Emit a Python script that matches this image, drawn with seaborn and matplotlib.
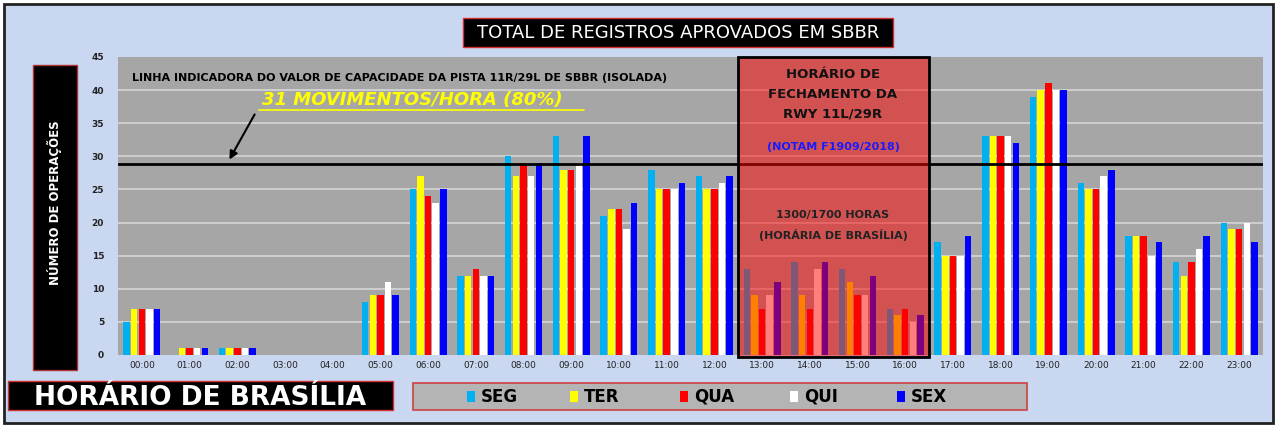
import matplotlib
matplotlib.use("Agg")
import matplotlib.pyplot as plt
import matplotlib.patches as mpatches
from matplotlib.lines import Line2D
import seaborn as sns
import pandas as pd

# ---------------- data ----------------
horas = ["00:00", "01:00", "02:00", "03:00", "04:00", "05:00", "06:00", "07:00",
         "08:00", "09:00", "10:00", "11:00", "12:00", "13:00", "14:00", "15:00",
         "16:00", "17:00", "18:00", "19:00", "20:00", "21:00", "22:00", "23:00"]
dias = ["SEG", "TER", "QUA", "QUI", "SEX"]
seg = [5, 0, 1, 0, 0, 8, 25, 12, 30, 33, 21, 28, 27, 13, 14, 13, 7, 17, 33, 39, 26, 18, 14, 20]
ter = [7, 1, 1, 0, 0, 9, 27, 12, 27, 28, 22, 25, 25, 9, 9, 11, 6, 15, 33, 40, 25, 18, 12, 19]
qua = [7, 1, 1, 0, 0, 9, 24, 13, 29, 28, 22, 25, 25, 7, 7, 9, 7, 15, 33, 41, 25, 18, 14, 19]
qui = [7, 1, 1, 0, 0, 11, 23, 12, 27, 29, 19, 25, 26, 9, 13, 9, 5, 15, 33, 40, 27, 15, 16, 20]
sex = [7, 1, 1, 0, 0, 9, 25, 12, 29, 33, 23, 26, 27, 11, 14, 12, 6, 18, 32, 40, 28, 17, 18, 17]
capacidade = 28.8
cores = ["#00b0f0", "#ffff00", "#ff0000", "#ffffff", "#0000ff"]

rows = []
for d, vals in zip(dias, [seg, ter, qua, qui, sex]):
    for h, v in zip(horas, vals):
        rows.append({"hora": h, "dia": d, "valor": v})
df = pd.DataFrame(rows)

W, H = 1277, 428
def fx(p):
    return p / W
def fy(p):
    return 1 - p / H

sns.set_style("white")
fig = plt.figure(figsize=(W / 100, H / 100), dpi=100, facecolor="white")

# framed background
fig.patches.append(mpatches.Rectangle((fx(4), fy(423)), fx(1269), 419 / H,
                                      transform=fig.transFigure, facecolor="#cad7f0",
                                      edgecolor="#222222", linewidth=2, zorder=-5))

ax = fig.add_axes([fx(118), fy(355), fx(1263 - 118), (355 - 57) / H])
ax.set_zorder(1)
ax.set_facecolor("#a6a6a6")

sns.barplot(data=df, x="hora", y="valor", hue="dia", hue_order=dias,
            palette=cores, width=0.8, gap=0.15, saturation=1, linewidth=0,
            legend=False, ax=ax, zorder=3)

ax.set_ylim(0, 45)
ax.set_xlim(-0.5, 23.5)
ax.set_yticks(range(0, 46, 5))
for yv in range(5, 45, 5):
    ax.axhline(yv, color="#d9d9d9", lw=1.1, zorder=1)
for s in ax.spines.values():
    s.set_visible(False)
ax.set_xlabel("")
ax.set_ylabel("")
ax.tick_params(axis="both", length=0, labelsize=6.5, colors="#222222")
for t in ax.get_yticklabels():
    t.set_fontweight("bold")
ax.tick_params(axis="y", pad=10)
ax.tick_params(axis="x", pad=4)

# capacity line
ax.axhline(capacidade, color="black", lw=2, zorder=4)

# closure overlay (13:00-16:00)
ax.add_patch(mpatches.Rectangle((12.5, -0.3), 4, 45.3, facecolor="#ff0000", alpha=0.5,
                                edgecolor="none", zorder=5, clip_on=False))
ax.add_patch(mpatches.Rectangle((12.5, -0.3), 4, 45.3, facecolor="none",
                                edgecolor="black", lw=2, zorder=6, clip_on=False))

# texts inside the overlay
for txt, yy in [("HORÁRIO DE", 75), ("FECHAMENTO DA", 95), ("RWY 11L/29R", 114)]:
    fig.text(fx(833), fy(yy), txt, ha="center", va="center", fontsize=9.5,
             fontweight="bold", color="#111111", zorder=10)
fig.text(fx(833), fy(147), "(NOTAM F1909/2018)", ha="center", va="center",
         fontsize=8, fontweight="bold", color="#1a1aff", zorder=10)
fig.text(fx(833), fy(215), "1300/1700 HORAS", ha="center", va="center",
         fontsize=8, fontweight="bold", color="#222222", zorder=10)
fig.text(fx(833), fy(235), "(HORÁRIA DE BRASÍLIA)", ha="center", va="center",
         fontsize=8, fontweight="bold", color="#222222", zorder=10)

# capacity annotation
fig.text(fx(132), fy(78), "LINHA INDICADORA DO VALOR DE CAPACIDADE DA PISTA 11R/29L DE SBBR (ISOLADA)",
         ha="left", va="center", fontsize=8, fontweight="bold", color="black", zorder=10)
fig.text(fx(262), fy(100), "31 MOVIMENTOS/HORA (80%)", ha="left", va="center",
         fontsize=13, fontweight="bold", fontstyle="italic", color="#ffff00", zorder=10)
fig.add_artist(Line2D([fx(259), fx(584)], [fy(110), fy(110)], color="#ffff00", lw=1.2,
                      transform=fig.transFigure, zorder=10))
fig.add_artist(mpatches.FancyArrowPatch((fx(256), fy(112)), (fx(228), fy(162)),
                                        transform=fig.transFigure, arrowstyle="-|>",
                                        mutation_scale=12, color="black", lw=1.5, zorder=10))

# title box
fig.patches.append(mpatches.Rectangle((fx(463), fy(47)), fx(430), 29 / H,
                                      transform=fig.transFigure, facecolor="black",
                                      edgecolor="#d03030", lw=1, zorder=2))
fig.text(fx(678), fy(33), "TOTAL DE REGISTROS APROVADOS EM SBBR", ha="center", va="center",
         fontsize=13, color="white", zorder=10)

# y label box
fig.patches.append(mpatches.Rectangle((fx(33), fy(370)), fx(44), (370 - 65) / H,
                                      transform=fig.transFigure, facecolor="black",
                                      edgecolor="#b03030", lw=1, zorder=2))
fig.text(fx(55), fy(203), "NÚMERO DE OPERAÇÕES", ha="center", va="center", rotation=90,
         fontsize=8.5, fontweight="bold", color="white", zorder=10)

# bottom-left label
fig.patches.append(mpatches.Rectangle((fx(8), fy(410)), fx(385), 29 / H,
                                      transform=fig.transFigure, facecolor="black",
                                      edgecolor="#d03030", lw=1, zorder=2))
fig.text(fx(200), fy(398), "HORÁRIO DE BRASÍLIA", ha="center", va="center",
         fontsize=19, fontweight="bold", color="white", zorder=10)

# legend box
fig.patches.append(mpatches.Rectangle((fx(413), fy(410)), fx(614), 27 / H,
                                      transform=fig.transFigure, facecolor="#b4b4b4",
                                      edgecolor="#d04040", lw=1.2, zorder=2))
leg_x = [467, 570, 680, 790, 897]
for xx, d, c in zip(leg_x, dias, cores):
    fig.patches.append(mpatches.Rectangle((fx(xx), fy(402)), fx(8), 11 / H,
                                          transform=fig.transFigure, facecolor=c,
                                          edgecolor="none", zorder=3))
    fig.text(fx(xx + 14), fy(397), d, ha="left", va="center", fontsize=12,
             fontweight="bold", color="black", zorder=10)

fig.savefig("out.png", dpi=100, facecolor="white")
